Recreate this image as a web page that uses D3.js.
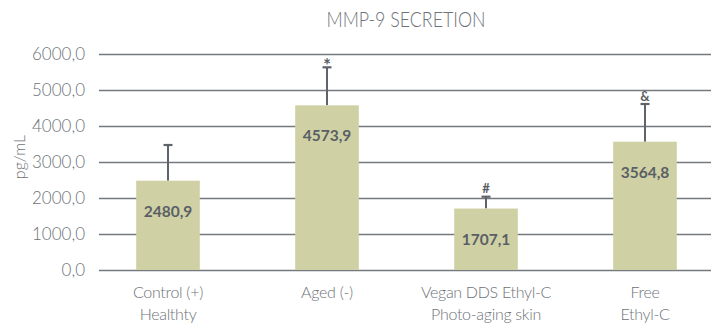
<!DOCTYPE html>
<html>
<head>
<meta charset="utf-8">
<script src="https://cdn.jsdelivr.net/npm/d3@7/dist/d3.min.js"></script>
<style>
  html, body { margin: 0; padding: 0; background: #fff; }
  svg { display: block; font-family: Lato, "Open Sans", sans-serif; }
</style>
</head>
<body>
<svg id="chart" width="711" height="323"></svg>
<script>
// MMP-9 secretion per treatment group (pg/mL)
const categories = [
  ["Control (+)", "Healthty"],
  ["Aged (-)"],
  ["Vegan DDS Ethyl-C", "Photo-aging skin"],
  ["Free", "Ethyl-C"]
];
const means = [2480.9, 4573.9, 1707.1, 3564.8];
const errors = [991, 1056, 329, 1046];
const markers = ["", "*", "#", "&"];
const yTicks = [0, 1000, 2000, 3000, 4000, 5000, 6000];
const title = "MMP-9 SECRETION";
const yTitle = "pg/mL";

const svg = d3.select("#chart");
const fmt = v => d3.format(".1f")(v).replace(".", ",");

const keys = categories.map((c, i) => i);
const x = d3.scaleBand().domain(keys).range([88.5, 724.5])
  .paddingInner(0.6).paddingOuter(0.3);
const y = d3.scaleLinear().domain([0, 6000]).range([270, 54]);

const gridColor = "#74797f";
const textColor = "#6d7278";
const darkText = "#5a5f66";

// horizontal grid lines with tick labels
const axis = d3.axisLeft(y).tickValues(yTicks).tickFormat(fmt)
  .tickSize(-(711 - 99)).tickPadding(14);
const gAxis = svg.append("g").attr("transform", "translate(99,0)").call(axis);
gAxis.select(".domain").remove();
gAxis.selectAll(".tick line").attr("stroke", gridColor).attr("stroke-width", 1.5);
gAxis.selectAll(".tick text")
  .attr("fill", textColor).attr("font-size", 17).attr("font-weight", 300)
  .attr("font-family", "Lato, sans-serif");

// error bars (drawn behind the bars)
const eb = svg.append("g");
keys.forEach(i => {
  const cx = x(i) + x.bandwidth() / 2;
  const top = y(means[i] + errors[i]);
  eb.append("line")
    .attr("x1", cx).attr("x2", cx)
    .attr("y1", y(means[i])).attr("y2", top)
    .attr("stroke", "#5f646a").attr("stroke-width", 2);
  eb.append("line")
    .attr("x1", cx - 4.5).attr("x2", cx + 4.5)
    .attr("y1", top).attr("y2", top)
    .attr("stroke", "#5f646a").attr("stroke-width", 2.2);
  if (markers[i]) {
    const star = markers[i] === "*";
    eb.append("text")
      .attr("x", cx).attr("y", star ? top + 5 : top - 3.5)
      .attr("text-anchor", "middle")
      .attr("font-size", star ? 19 : 13).attr("font-weight", 700)
      .attr("fill", darkText)
      .text(markers[i]);
  }
});

// bars
svg.append("g").selectAll("rect").data(keys).join("rect")
  .attr("x", i => x(i))
  .attr("y", i => y(means[i]))
  .attr("width", x.bandwidth())
  .attr("height", i => y(0) - y(means[i]))
  .attr("fill", "#cfd1a4");

// value labels inside the bars
svg.append("g").selectAll("text").data(keys).join("text")
  .attr("x", i => x(i) + x.bandwidth() / 2)
  .attr("y", i => y(means[i]) + 36)
  .attr("text-anchor", "middle")
  .attr("font-size", 15.5).attr("font-weight", 700)
  .attr("fill", darkText)
  .text(i => fmt(means[i]));

// category labels
const cat = svg.append("g");
keys.forEach(i => {
  const t = cat.append("text")
    .attr("x", x(i) + x.bandwidth() / 2)
    .attr("y", 298)
    .attr("text-anchor", "middle")
    .attr("font-size", 16).attr("font-weight", 300)
    .attr("letter-spacing", -0.3)
    .attr("fill", textColor);
  categories[i].forEach((line, k) => {
    t.append("tspan").attr("x", x(i) + x.bandwidth() / 2)
      .attr("dy", k === 0 ? 0 : 22).text(line);
  });
});

// title
svg.append("text")
  .attr("x", 406).attr("y", 27)
  .attr("text-anchor", "middle")
  .attr("font-size", 21).attr("font-weight", 300)
  .attr("textLength", 159).attr("lengthAdjust", "spacingAndGlyphs")
  .attr("fill", textColor)
  .text(title);

// y-axis title
svg.append("text")
  .attr("transform", "translate(25,157) rotate(-90)")
  .attr("text-anchor", "middle")
  .attr("font-size", 16).attr("font-weight", 300)
  .attr("fill", textColor)
  .text(yTitle);
</script>
</body>
</html>
